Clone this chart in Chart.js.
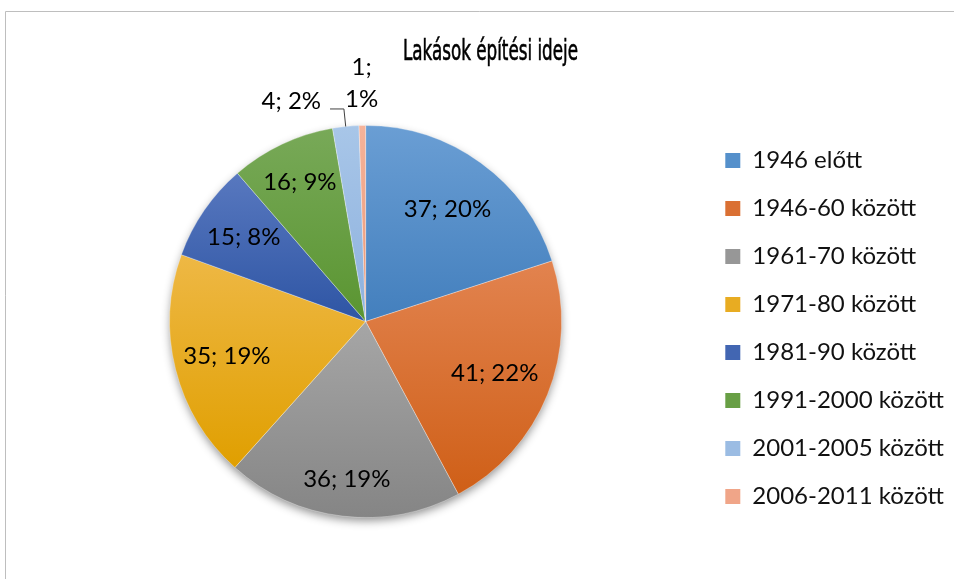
<!DOCTYPE html>
<html>
<head>
    <meta charset="utf-8">
    <script src="https://cdn.jsdelivr.net/npm/chart.js"></script>
    <style>
        html, body { margin: 0; padding: 0; background: #fff; }
    </style>
</head>
<body>
    <canvas id="myChart" width="954" height="579"></canvas>
    <script>
        // data
        const labels = ['1946 előtt', '1946-60 között', '1961-70 között', '1971-80 között',
            '1981-90 között', '1991-2000 között', '2001-2005 között', '2006-2011 között'];
        const counts = [37, 41, 36, 35, 15, 16, 4, 1];

        // slice fills: light at the top, dark at the bottom
        const topColors = ['#6A9ED4', '#E2834F', '#A6A6A6', '#EEB845', '#5878BF', '#78A958', '#A8C6E8', '#F5B39A'];
        const bottomColors = ['#437FBD', '#CF5F17', '#858585', '#E09F00', '#2E55A4', '#5A9531', '#8DB1DE', '#EB9775'];
        const flatColors = ['#5590CB', '#DA7033', '#979797', '#E8AC22', '#4266B2', '#689F45', '#9BBCE3', '#F0A588'];

        // where each value label sits: fraction of the radius, angle turn in degrees
        const labelPlace = [
            { f: 0.71 }, { f: 0.71 }, { f: 0.81 }, { f: 0.73 }, { f: 0.755 }, { f: 0.785 },
            { f: 1.187, turn: -12.8, leader: true },
            { f: 1.217, wrap: true }
        ];

        const total = counts.reduce((a, b) => a + b, 0);
        const pieRadius = 196;
        const legendFont = { family: 'Lato', size: 24 };
        const legendPad = 24;
        const legendBox = 15;

        // work out the right padding so the legend starts where we want it
        const mctx = document.createElement('canvas').getContext('2d');
        mctx.font = legendFont.size + 'px ' + legendFont.family;
        let maxText = 0;
        labels.forEach(l => { maxText = Math.max(maxText, mctx.measureText(l).width); });
        const legendWidth = legendPad + legendBox + legendFont.size / 2 + maxText + 10;
        const legendLeft = 702;
        const rightPad = Math.max(0, 954 - legendLeft - legendWidth);

        function sliceGradient(context) {
            const i = context.dataIndex;
            const chart = context.chart;
            const area = chart.chartArea;
            if (!area) return flatColors[i];
            const cx = (area.left + area.right) / 2;
            const cy = (area.top + area.bottom) / 2;
            let before = 0;
            for (let k = 0; k < i; k++) before += counts[k];
            const a0 = -Math.PI / 2 + before / total * Math.PI * 2;
            const a1 = a0 + counts[i] / total * Math.PI * 2;
            let ys = [cy, cy + pieRadius * Math.sin(a0), cy + pieRadius * Math.sin(a1)];
            [Math.PI / 2, Math.PI * 1.5, -Math.PI / 2].forEach(a => {
                if (a > a0 && a < a1) ys.push(cy + pieRadius * Math.sin(a));
            });
            const y0 = Math.min(...ys), y1 = Math.max(...ys);
            const g = chart.ctx.createLinearGradient(0, y0, 0, y1 + 0.01);
            g.addColorStop(0, topColors[i]);
            g.addColorStop(1, bottomColors[i]);
            return g;
        }

        // white page, frame lines and title
        const frame = {
            id: 'frame',
            beforeDraw(chart) {
                const ctx = chart.ctx;
                ctx.save();
                ctx.fillStyle = '#fff';
                ctx.fillRect(0, 0, chart.width, chart.height);
                ctx.strokeStyle = '#BEBEBE';
                ctx.lineWidth = 1;
                ctx.beginPath();
                ctx.moveTo(5.5, chart.height);
                ctx.lineTo(5.5, 11.5);
                ctx.lineTo(chart.width, 11.5);
                ctx.stroke();
                ctx.restore();
            },
            afterDraw(chart) {
                const ctx = chart.ctx;
                const text = 'Lakások építési ideje';
                ctx.save();
                ctx.font = '29px "Liberation Sans Narrow", "DejaVu Sans Condensed", sans-serif';
                const w = ctx.measureText(text).width;
                const sx = 175 / w;
                ctx.translate(490.5, 52);
                ctx.scale(sx, 1);
                ctx.fillStyle = '#000';
                ctx.strokeStyle = '#000';
                ctx.lineWidth = 0.6;
                ctx.textAlign = 'center';
                ctx.textBaseline = 'middle';
                ctx.fillText(text, 0, 0);
                ctx.strokeText(text, 0, 0);
                ctx.restore();
            }
        };

        // soft drop shadow under the pie
        const pieShadow = {
            id: 'pieShadow',
            beforeDatasetsDraw(chart) {
                const arc = chart.getDatasetMeta(0).data[0];
                if (!arc) return;
                const { x, y, outerRadius } = arc.getProps(['x', 'y', 'outerRadius'], true);
                const ctx = chart.ctx;
                ctx.save();
                ctx.shadowColor = 'rgba(0,0,0,0.45)';
                ctx.shadowBlur = 10;
                ctx.shadowOffsetY = 4;
                ctx.fillStyle = '#fff';
                ctx.beginPath();
                ctx.arc(x, y, outerRadius - 1, 0, Math.PI * 2);
                ctx.fill();
                ctx.restore();
            }
        };

        // "value; percent" labels
        const valueLabels = {
            id: 'valueLabels',
            afterDatasetsDraw(chart) {
                const ctx = chart.ctx;
                const meta = chart.getDatasetMeta(0);
                ctx.save();
                ctx.font = '24px Lato';
                ctx.fillStyle = '#000';
                ctx.textAlign = 'center';
                ctx.textBaseline = 'middle';
                meta.data.forEach((arc, i) => {
                    const p = arc.getProps(['x', 'y', 'startAngle', 'endAngle', 'outerRadius'], true);
                    const place = labelPlace[i];
                    const mid = (p.startAngle + p.endAngle) / 2;
                    const a = mid + (place.turn || 0) * Math.PI / 180;
                    const lx = p.x + Math.cos(a) * p.outerRadius * place.f;
                    const ly = p.y + Math.sin(a) * p.outerRadius * place.f;
                    const pct = Math.round(counts[i] / total * 100);
                    if (place.wrap) {
                        ctx.fillText(counts[i] + ';', lx, ly - 16);
                        ctx.fillText(pct + '%', lx, ly + 16);
                    } else {
                        const txt = counts[i] + '; ' + pct + '%';
                        ctx.fillText(txt, lx, ly);
                        if (place.leader) {
                            const tw = ctx.measureText(txt).width;
                            const ex = p.x + Math.cos(mid) * p.outerRadius;
                            const ey = p.y + Math.sin(mid) * p.outerRadius;
                            const bx = p.x + Math.cos(mid) * p.outerRadius * 1.09;
                            const by = p.y + Math.sin(mid) * p.outerRadius * 1.09;
                            ctx.strokeStyle = '#404040';
                            ctx.lineWidth = 1;
                            ctx.beginPath();
                            ctx.moveTo(ex, ey);
                            ctx.lineTo(bx, by);
                            ctx.lineTo(lx + tw / 2 + 9, by);
                            ctx.stroke();
                        }
                    }
                });
                ctx.restore();
            }
        };

        const data = {
            labels: labels,
            datasets: [{
                data: counts,
                backgroundColor: sliceGradient,
                borderColor: 'rgba(255,255,255,0.3)',
                borderWidth: 1,
                hoverOffset: 0,
                radius: pieRadius
            }]
        };

        const config = {
            type: 'pie',
            data: data,
            options: {
                responsive: false,
                animation: false,
                devicePixelRatio: 1,
                layout: {
                    padding: { left: 30, right: rightPad, top: 64, bottom: 0 }
                },
                plugins: {
                    tooltip: { enabled: false },
                    legend: {
                        position: 'right',
                        align: 'center',
                        title: { display: true, text: ' ', font: { size: 10, lineHeight: 1 }, padding: 2 },
                        labels: {
                            boxWidth: legendBox,
                            boxHeight: legendBox,
                            padding: legendPad,
                            color: '#111',
                            font: legendFont,
                            generateLabels(chart) {
                                const items = Chart.overrides.pie.plugins.legend.labels.generateLabels(chart);
                                items.forEach((it, i) => {
                                    it.fillStyle = flatColors[i];
                                    it.strokeStyle = flatColors[i];
                                    it.lineWidth = 0;
                                });
                                return items;
                            }
                        }
                    }
                }
            },
            plugins: [frame, pieShadow, valueLabels]
        };

        const myChart = new Chart(document.getElementById('myChart'), config);
    </script>
</body>
</html>
